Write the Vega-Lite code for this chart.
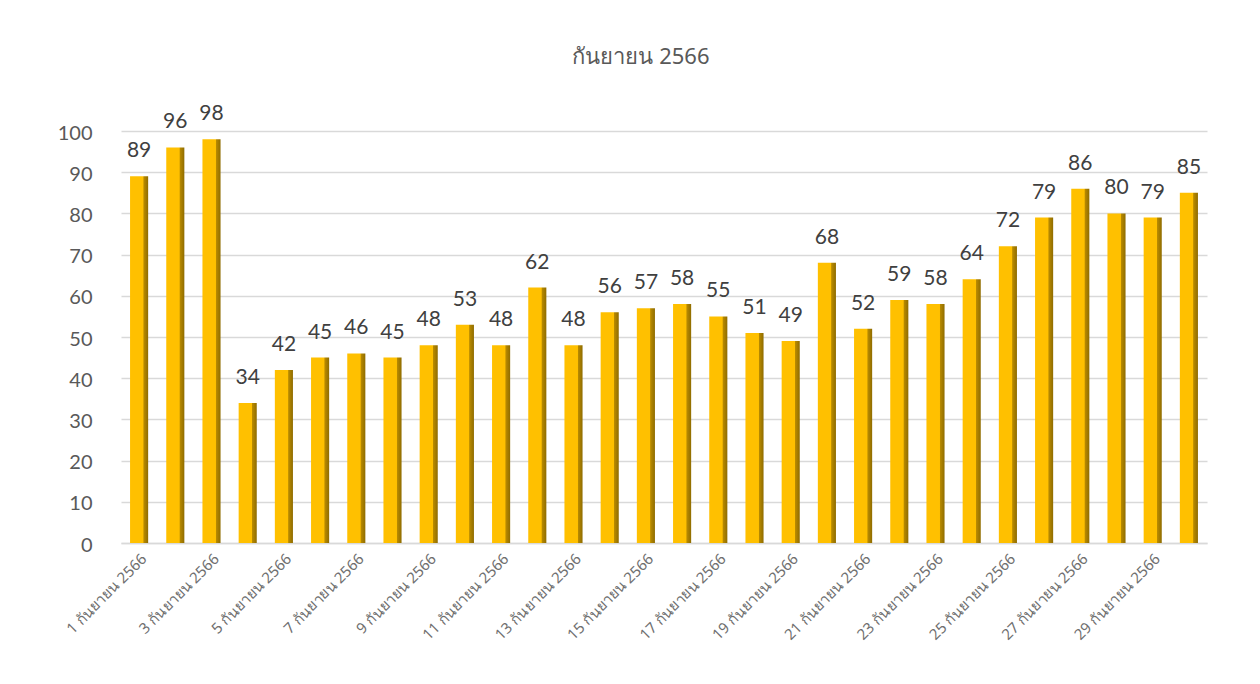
{
  "$schema": "https://vega.github.io/schema/vega-lite/v6.json",
  "autosize": {"type": "none"},
  "width": 1086,
  "height": 412,
  "padding": {"left": 121, "top": 131, "right": 53, "bottom": 141},
  "background": "#ffffff",
  "config": {
    "view": {"stroke": null},
    "font": "Lato, Noto Sans, sans-serif"
  },
  "title": {
    "text": "กันยายน 2566",
    "fontSize": 22,
    "fontWeight": "normal",
    "color": "#595959",
    "font": "Noto Sans, Lato, sans-serif",
    "offset": 34,
    "dx": -23
  },
  "data": {
    "values": [
      {"date": "1 กันยายน 2566", "value": 89},
      {"date": "2 กันยายน 2566", "value": 96},
      {"date": "3 กันยายน 2566", "value": 98},
      {"date": "4 กันยายน 2566", "value": 34},
      {"date": "5 กันยายน 2566", "value": 42},
      {"date": "6 กันยายน 2566", "value": 45},
      {"date": "7 กันยายน 2566", "value": 46},
      {"date": "8 กันยายน 2566", "value": 45},
      {"date": "9 กันยายน 2566", "value": 48},
      {"date": "10 กันยายน 2566", "value": 53},
      {"date": "11 กันยายน 2566", "value": 48},
      {"date": "12 กันยายน 2566", "value": 62},
      {"date": "13 กันยายน 2566", "value": 48},
      {"date": "14 กันยายน 2566", "value": 56},
      {"date": "15 กันยายน 2566", "value": 57},
      {"date": "16 กันยายน 2566", "value": 58},
      {"date": "17 กันยายน 2566", "value": 55},
      {"date": "18 กันยายน 2566", "value": 51},
      {"date": "19 กันยายน 2566", "value": 49},
      {"date": "20 กันยายน 2566", "value": 68},
      {"date": "21 กันยายน 2566", "value": 52},
      {"date": "22 กันยายน 2566", "value": 59},
      {"date": "23 กันยายน 2566", "value": 58},
      {"date": "24 กันยายน 2566", "value": 64},
      {"date": "25 กันยายน 2566", "value": 72},
      {"date": "26 กันยายน 2566", "value": 79},
      {"date": "27 กันยายน 2566", "value": 86},
      {"date": "28 กันยายน 2566", "value": 80},
      {"date": "29 กันยายน 2566", "value": 79},
      {"date": "30 กันยายน 2566", "value": 85}
    ]
  },
  "encoding": {
    "x": {
      "field": "date",
      "type": "nominal",
      "sort": null,
      "scale": {"paddingInner": 0.5, "paddingOuter": 0.25},
      "axis": {
        "title": null,
        "values": ["1 กันยายน 2566", "3 กันยายน 2566", "5 กันยายน 2566", "7 กันยายน 2566", "9 กันยายน 2566", "11 กันยายน 2566", "13 กันยายน 2566", "15 กันยายน 2566", "17 กันยายน 2566", "19 กันยายน 2566", "21 กันยายน 2566", "23 กันยายน 2566", "25 กันยายน 2566", "27 กันยายน 2566", "29 กันยายน 2566"],
        "labelAngle": -45,
        "labelFontSize": 15,
        "labelColor": "#6F6F6F",
        "labelFont": "Noto Sans, Lato, sans-serif",
        "labelPadding": 8,
        "labelOverlap": false,
        "ticks": false,
        "domainColor": "#D9D9D9",
        "domainWidth": 1.5
      }
    },
    "y": {
      "field": "value",
      "type": "quantitative",
      "scale": {"domain": [0, 100]},
      "axis": {
        "title": null,
        "values": [0, 10, 20, 30, 40, 50, 60, 70, 80, 90, 100],
        "labelOverlap": false,
        "labelFontSize": 20,
        "labelColor": "#595959",
        "labelPadding": 29,
        "labelBaseline": "top",
        "labelOffset": -8,
        "ticks": false,
        "domain": false,
        "gridColor": "#D9D9D9",
        "gridWidth": 1.5
      }
    }
  },
  "layer": [
    {
      "mark": {
        "type": "bar",
        "color": {
          "gradient": "linear",
          "x1": 0, "x2": 1, "y1": 0, "y2": 0,
          "stops": [
            {"offset": 0, "color": "#FFC000"},
            {"offset": 0.72, "color": "#FFC000"},
            {"offset": 0.76, "color": "#B88A00"},
            {"offset": 1, "color": "#8F6C00"}
          ]
        }
      }
    },
    {
      "mark": {"type": "text", "dy": -25, "fontSize": 21, "color": "#404040", "font": "Lato, sans-serif"},
      "encoding": {"text": {"field": "value", "type": "quantitative"}}
    }
  ]
}
